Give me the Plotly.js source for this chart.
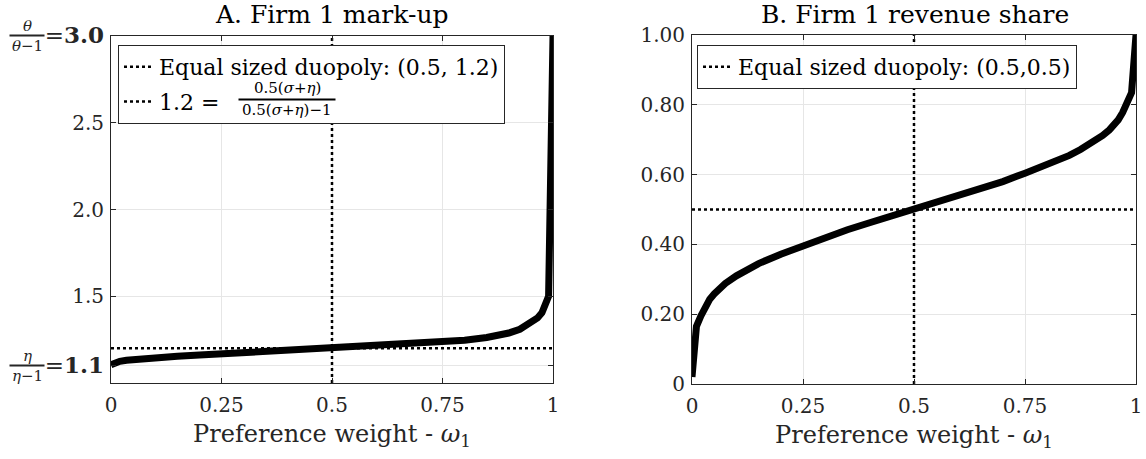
<!DOCTYPE html>
<html>
<head>
<meta charset="utf-8">
<script src="https://cdn.plot.ly/plotly-3.0.1.min.js"></script>
<style>html,body{margin:0;padding:0;background:#fff;}#chart{width:1146px;height:459px;}</style>
</head>
<body>
<div id="chart"></div>
<script>
// ---- Data ----
const omegaA = [0, 0.01, 0.02, 0.035, 0.05, 0.075, 0.1, 0.15, 0.2, 0.25, 0.3, 0.35, 0.4, 0.45, 0.5, 0.55, 0.6, 0.65, 0.7, 0.75, 0.8, 0.85, 0.875, 0.9, 0.925, 0.95, 0.965, 0.975, 0.985, 0.99, 1];
const markup = [1.105, 1.118, 1.125, 1.131, 1.135, 1.141, 1.146, 1.154, 1.161, 1.168, 1.174, 1.18, 1.187, 1.193, 1.2, 1.206, 1.212, 1.219, 1.227, 1.236, 1.247, 1.262, 1.273, 1.288, 1.31, 1.345, 1.375, 1.405, 1.455, 1.5, 3.0];

const omegaB = [0, 0.01, 0.02, 0.03, 0.04, 0.05, 0.06, 0.075, 0.1, 0.125, 0.15, 0.2, 0.25, 0.3, 0.35, 0.4, 0.45, 0.5, 0.55, 0.6, 0.65, 0.7, 0.75, 0.8, 0.85, 0.875, 0.9, 0.925, 0.94, 0.95, 0.96, 0.97, 0.98, 0.99, 1];
const revShare = [0.02, 0.165, 0.195, 0.222, 0.243, 0.258, 0.272, 0.288, 0.31, 0.328, 0.345, 0.372, 0.396, 0.42, 0.442, 0.462, 0.481, 0.5, 0.519, 0.538, 0.558, 0.58, 0.604, 0.628, 0.655, 0.672, 0.69, 0.712, 0.728, 0.742, 0.757, 0.778, 0.805, 0.835, 1.0];

const equalA = [0.5, 1.2];   // (omega, markup) of equal sized duopoly
const equalB = [0.5, 0.5];   // (omega, share)
const yRangeA = [1.0, 3.0];
const yRangeB = [0, 1.0];
const xRange = [0, 1];

const xTickVals = [0, 0.25, 0.5, 0.75, 1];
const xTickText = ["0", "0.25", "0.5", "0.75", "1"];
const yTickValsA = [1.1, 1.5, 2.0, 2.5, 3.0];
const yTickTextA = ["<span style=\"font-size:23px\">=<b>1.1</b></span>", "1.5", "2.0", "2.5", "<span style=\"font-size:23px\">=<b>3.0</b></span>"];
const yTickValsB = [0, 0.2, 0.4, 0.6, 0.8, 1.0];
const yTickTextB = ["0", "0.20", "0.40", "0.60", "0.80", "1.00"];

const titleA = "A. Firm 1 mark-up";
const titleB = "B. Firm 1 revenue share";
const xTitle = "Preference weight - <i>ω</i><sub>1</sub>";
const legendA1 = "Equal sized duopoly: (0.5, 1.2)";
const legendA2 = "1.2 =";
const legendA2Num = "0.5(<i>σ</i>+<i>η</i>)";
const legendA2Den = "0.5(<i>σ</i>+<i>η</i>)−1";
const legendB1 = "Equal sized duopoly: (0.5,0.5)";
const fracTheta = ["<i>θ</i>", "<i>θ</i>−1"];
const fracEta = ["<i>η</i>", "<i>η</i>−1"];

// ---- Plot ----
const FONT = "'DejaVu Serif', 'Liberation Serif', serif";
const W = 1146, H = 459;
const px = v => v / W;
const py = v => 1 - v / H;
const INK = "#262626";

const dotted = {color: "#000", width: 2.5, dash: "dot"};

const traces = [
  {x: [equalA[0], equalA[0]], y: yRangeA, xaxis: "x", yaxis: "y", mode: "lines", line: dotted,
   name: legendA1, legend: "legend", legendgroup: "a1", hoverinfo: "skip"},
  {x: xRange, y: [equalA[1], equalA[1]], xaxis: "x", yaxis: "y", mode: "lines", line: dotted,
   name: legendA2, legend: "legend", legendgroup: "a2", hoverinfo: "skip"},
  {x: omegaA, y: markup, xaxis: "x", yaxis: "y", mode: "lines", line: {color: "#000", width: 7},
   showlegend: false},
  {x: [equalB[0], equalB[0]], y: yRangeB, xaxis: "x2", yaxis: "y2", mode: "lines", line: dotted,
   name: legendB1, legend: "legend2", hoverinfo: "skip"},
  {x: xRange, y: [equalB[1], equalB[1]], xaxis: "x2", yaxis: "y2", mode: "lines", line: dotted,
   showlegend: false, hoverinfo: "skip"},
  {x: omegaB, y: revShare, xaxis: "x2", yaxis: "y2", mode: "lines", line: {color: "#000", width: 7},
   showlegend: false}
];

const axisCommon = {
  showline: true, mirror: "ticks", linecolor: INK, linewidth: 1,
  ticks: "inside", ticklen: 5, tickcolor: INK, tickwidth: 1,
  showgrid: true, gridcolor: "#e6e6e6", gridwidth: 1,
  zeroline: false, automargin: false,
  tickfont: {family: FONT, size: 20, color: INK}
};

function frac(parts, yref, yval, xc, size) {
  return [
    {text: parts[0], xref: "paper", yref: yref, x: px(xc), y: yval, yshift: 10, xanchor: "center", yanchor: "middle",
     showarrow: false, font: {family: FONT, size: size, color: INK}},
    {text: parts[1], xref: "paper", yref: yref, x: px(xc), y: yval, yshift: -10, xanchor: "center", yanchor: "middle",
     showarrow: false, font: {family: FONT, size: size, color: INK}},
    {text: " ", xref: "paper", yref: yref, x: px(xc), y: yval, xanchor: "center", yanchor: "middle",
     width: 34, height: 1, borderpad: 0, bgcolor: INK, showarrow: false, font: {size: 1}}
  ];
}

const layout = {
  width: W, height: H,
  margin: {l: 0, r: 0, t: 0, b: 0},
  paper_bgcolor: "#fff", plot_bgcolor: "#fff",
  font: {family: FONT, color: "#000"},
  showlegend: true,
  xaxis: Object.assign({}, axisCommon, {
    domain: [px(111), px(553)], range: xRange, tickvals: xTickVals, ticktext: xTickText,
    anchor: "y", ticklabelstandoff: 4,
    title: {text: xTitle, font: {family: FONT, size: 24, color: INK}, standoff: 9}
  }),
  yaxis: Object.assign({}, axisCommon, {
    domain: [py(383), py(36)], range: yRangeA, tickvals: yTickValsA, ticktext: yTickTextA,
    anchor: "x", ticklabelstandoff: 2
  }),
  xaxis2: Object.assign({}, axisCommon, {
    domain: [px(692), px(1136)], range: xRange, tickvals: xTickVals, ticktext: xTickText,
    anchor: "y2", ticklabelstandoff: 4,
    title: {text: xTitle, font: {family: FONT, size: 24, color: INK}, standoff: 9}
  }),
  yaxis2: Object.assign({}, axisCommon, {
    domain: [py(384), py(35)], range: yRangeB, tickvals: yTickValsB, ticktext: yTickTextB,
    anchor: "x2", ticklabelstandoff: 2
  }),
  legend: {
    x: px(118), y: py(45), xanchor: "left", yanchor: "top",
    bgcolor: "#fff", bordercolor: INK, borderwidth: 1, tracegroupgap: 3,
    font: {family: FONT, size: 22, color: "#000"}, itemwidth: 30
  },
  legend2: {
    x: px(697), y: py(45), xanchor: "left", yanchor: "top",
    bgcolor: "#fff", bordercolor: INK, borderwidth: 1,
    font: {family: FONT, size: 22, color: "#000"}, itemwidth: 30
  },
  annotations: [
    {text: titleA, xref: "paper", yref: "paper", x: px(332), y: py(15), xanchor: "center", yanchor: "middle",
     showarrow: false, font: {family: FONT, size: 25, color: "#000"}},
    {text: titleB, xref: "paper", yref: "paper", x: px(915), y: py(15), xanchor: "center", yanchor: "middle",
     showarrow: false, font: {family: FONT, size: 25, color: "#000"}}
  ]
    .concat(frac(fracTheta, "y", 3.0, 27, 15))
    .concat(frac(fracEta, "y", 1.1, 27, 15))
    .concat([
      {text: legendA2Num, xref: "paper", yref: "paper", x: px(287), y: py(88), xanchor: "center", yanchor: "middle",
       showarrow: false, font: {family: FONT, size: 15, color: "#000"}},
      {text: legendA2Den, xref: "paper", yref: "paper", x: px(287), y: py(110), xanchor: "center", yanchor: "middle",
       showarrow: false, font: {family: FONT, size: 15, color: "#000"}},
      {text: " ", xref: "paper", yref: "paper", x: px(287), y: py(99), xanchor: "center", yanchor: "middle",
       width: 96, height: 1, borderpad: 0, bgcolor: "#000", showarrow: false, font: {size: 1}}
    ])
};

Plotly.newPlot("chart", traces, layout, {staticPlot: true, displayModeBar: false});
</script>
</body>
</html>
